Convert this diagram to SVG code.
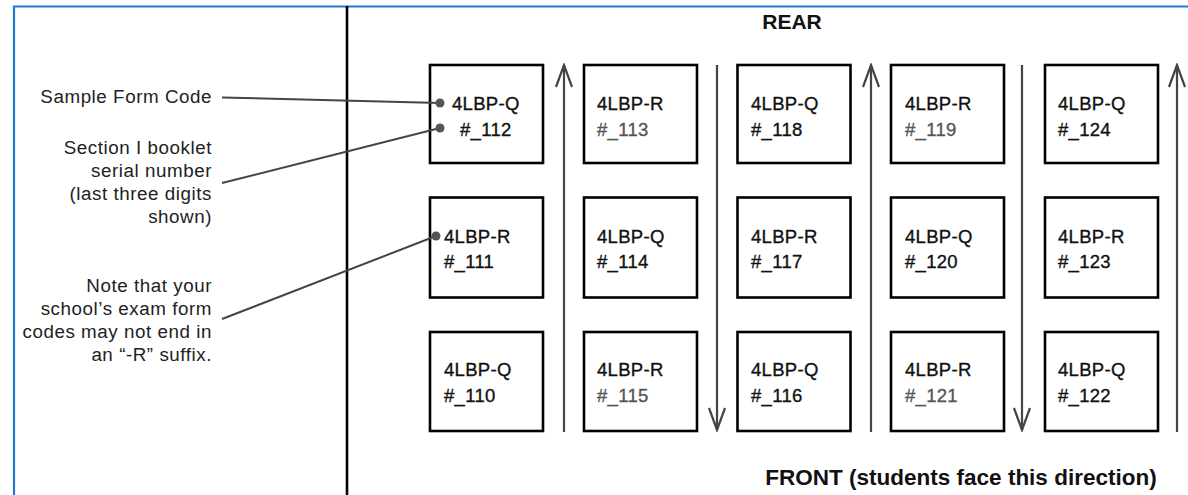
<svg xmlns="http://www.w3.org/2000/svg" width="1188" height="495" viewBox="0 0 1188 495">
<style>
.box{fill:#fff;stroke:#000;stroke-width:2.6}
.bt{font-family:"Liberation Sans",Arial,sans-serif;font-size:18.5px;fill:#111;stroke:#111;stroke-width:0.35;letter-spacing:0.3px}
.lt{fill:#555;stroke:#555}
.lab{font-family:"Liberation Sans",Arial,sans-serif;font-size:18.8px;letter-spacing:0.55px;fill:#222;text-anchor:end}
.hd{font-family:"Liberation Sans",Arial,sans-serif;font-weight:bold;fill:#111}
.aisle{stroke:#444;stroke-width:2.2;fill:none}
.lead{stroke:#444;stroke-width:2;fill:none}
.dot{fill:#555}
</style>
<defs>
<marker id="ah" viewBox="-2 0 26 20" refX="22" refY="10" markerWidth="26" markerHeight="20" markerUnits="userSpaceOnUse" orient="auto">
<path d="M0 2 L22 10 L0 18" fill="none" stroke="#444" stroke-width="2.2"/>
</marker>
</defs>
<rect width="1188" height="495" fill="#fff"/>
<path d="M14 500 V6.5 H1195" fill="none" stroke="#1f78d1" stroke-width="2.2"/>
<line x1="347" y1="6" x2="347" y2="495" stroke="#000" stroke-width="2.6"/>
<text class="hd" x="792" y="29" font-size="21" text-anchor="middle">REAR</text>
<text class="hd" x="961" y="485" font-size="22.5" text-anchor="middle">FRONT (students face this direction)</text>
<g id="labels">
<text class="lab" x="212" y="103">Sample Form Code</text>
<text class="lab" x="212" y="154">Section I booklet</text>
<text class="lab" x="212" y="177">serial number</text>
<text class="lab" x="212" y="200">(last three digits</text>
<text class="lab" x="212" y="223">shown)</text>
<text class="lab" x="212" y="292">Note that your</text>
<text class="lab" x="212" y="315">school’s exam form</text>
<text class="lab" x="212" y="338">codes may not end in</text>
<text class="lab" x="212" y="361">an “-R” suffix.</text>
</g>
<g id="aisles">
<line class="aisle" x1="564" y1="432" x2="564" y2="65" marker-end="url(#ah)"/>
<line class="aisle" x1="717" y1="65" x2="717" y2="430" marker-end="url(#ah)"/>
<line class="aisle" x1="871" y1="432" x2="871" y2="65" marker-end="url(#ah)"/>
<line class="aisle" x1="1022" y1="65" x2="1022" y2="430" marker-end="url(#ah)"/>
<line class="aisle" x1="1177" y1="432" x2="1177" y2="65" marker-end="url(#ah)"/>
</g>
<g id="seat-112"><rect class="box" x="430" y="65" width="113" height="98"/><text class="bt" x="452" y="110">4LBP-Q</text><text class="bt" x="460" y="136">#_112</text></g>
<g id="seat-113"><rect class="box" x="584" y="65" width="113" height="98"/><text class="bt" x="597" y="110">4LBP-R</text><text class="bt lt" x="597" y="136">#_113</text></g>
<g id="seat-118"><rect class="box" x="737.5" y="65" width="113" height="98"/><text class="bt" x="751" y="110">4LBP-Q</text><text class="bt" x="751" y="136">#_118</text></g>
<g id="seat-119"><rect class="box" x="891" y="65" width="113" height="98"/><text class="bt" x="905" y="110">4LBP-R</text><text class="bt lt" x="905" y="136">#_119</text></g>
<g id="seat-124"><rect class="box" x="1045" y="65" width="113" height="98"/><text class="bt" x="1058" y="110">4LBP-Q</text><text class="bt" x="1058" y="136">#_124</text></g>
<g id="seat-111"><rect class="box" x="430" y="197.5" width="113" height="100"/><text class="bt" x="444" y="243">4LBP-R</text><text class="bt" x="444" y="268">#_111</text></g>
<g id="seat-114"><rect class="box" x="584" y="197.5" width="113" height="100"/><text class="bt" x="597" y="243">4LBP-Q</text><text class="bt" x="597" y="268">#_114</text></g>
<g id="seat-117"><rect class="box" x="737.5" y="197.5" width="113" height="100"/><text class="bt" x="751" y="243">4LBP-R</text><text class="bt" x="751" y="268">#_117</text></g>
<g id="seat-120"><rect class="box" x="891" y="197.5" width="113" height="100"/><text class="bt" x="905" y="243">4LBP-Q</text><text class="bt" x="905" y="268">#_120</text></g>
<g id="seat-123"><rect class="box" x="1045" y="197.5" width="113" height="100"/><text class="bt" x="1058" y="243">4LBP-R</text><text class="bt" x="1058" y="268">#_123</text></g>
<g id="seat-110"><rect class="box" x="430" y="332" width="113" height="99"/><text class="bt" x="444" y="376">4LBP-Q</text><text class="bt" x="444" y="402">#_110</text></g>
<g id="seat-115"><rect class="box" x="584" y="332" width="113" height="99"/><text class="bt" x="597" y="376">4LBP-R</text><text class="bt lt" x="597" y="402">#_115</text></g>
<g id="seat-116"><rect class="box" x="737.5" y="332" width="113" height="99"/><text class="bt" x="751" y="376">4LBP-Q</text><text class="bt" x="751" y="402">#_116</text></g>
<g id="seat-121"><rect class="box" x="891" y="332" width="113" height="99"/><text class="bt" x="905" y="376">4LBP-R</text><text class="bt lt" x="905" y="402">#_121</text></g>
<g id="seat-122"><rect class="box" x="1045" y="332" width="113" height="99"/><text class="bt" x="1058" y="376">4LBP-Q</text><text class="bt" x="1058" y="402">#_122</text></g>
<g id="connectors">
<line class="lead" x1="222" y1="97.5" x2="440" y2="103"/>
<line class="lead" x1="222" y1="183" x2="440" y2="128"/>
<line class="lead" x1="222" y1="319" x2="436" y2="236"/>
<circle class="dot" cx="440" cy="103" r="4.5"/>
<circle class="dot" cx="440" cy="128" r="4.5"/>
<circle class="dot" cx="436" cy="236" r="4.5"/>
</g>
</svg>
